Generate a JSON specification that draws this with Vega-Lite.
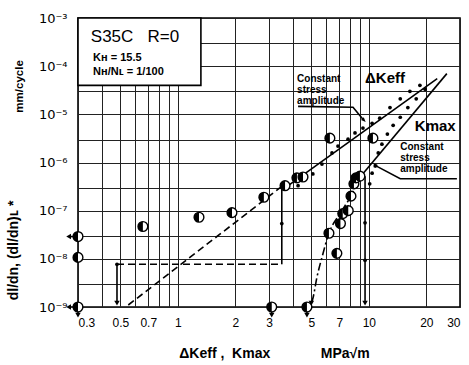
{
  "$schema": "https://vega.github.io/schema/vega-lite/v6.json",
  "width": 382,
  "height": 289,
  "autosize": {"type": "none"},
  "padding": {"left": 78, "top": 18, "right": 9, "bottom": 58},
  "background": "white",
  "config": {"view": {"stroke": "black", "strokeWidth": 1.6}, "font": "Liberation Sans"},
  "datasets": {
    "box": [{"x": 0.3, "x2": 1.32, "y": 0.001, "y2": 4e-5}],
    "solid": [
      {"id": "dk", "o": 1, "x": 3.64, "y": 2.96e-7}, {"id": "dk", "o": 2, "x": 22.8, "y": 5.5e-5},
      {"id": "km", "o": 1, "x": 8.67, "y": 4.2e-7}, {"id": "km", "o": 2, "x": 25.6, "y": 7e-5},
      {"id": "v1", "o": 1, "x": 3.5, "y": 7.7e-9}, {"id": "v1", "o": 2, "x": 3.5, "y": 3.3e-7},
      {"id": "v2", "o": 1, "x": 0.48, "y": 7.7e-9}, {"id": "v2", "o": 2, "x": 0.48, "y": 1.2e-9},
      {"id": "v3", "o": 1, "x": 9.55, "y": 5.2e-7}, {"id": "v3", "o": 2, "x": 9.55, "y": 1.2e-9},
      {"id": "l1", "o": 1, "x": 4.26, "y": 1.46e-5}, {"id": "l1", "o": 2, "x": 8.26, "y": 1.4e-5}, {"id": "l1", "o": 3, "x": 9.31, "y": 7.9e-6},
      {"id": "l2", "o": 1, "x": 28.9, "y": 4.6e-7}, {"id": "l2", "o": 2, "x": 14.6, "y": 4.6e-7}, {"id": "l2", "o": 3, "x": 10.9, "y": 8.5e-7},
      {"id": "sA", "o": 1, "x": 0.3, "y": 2.9e-8}, {"id": "sA", "o": 2, "x": 0.27, "y": 2.9e-8},
      {"id": "sC", "o": 1, "x": 0.3, "y": 1e-9}, {"id": "sC", "o": 2, "x": 0.27, "y": 1e-9},
      {"id": "sC2", "o": 1, "x": 0.3, "y": 1e-9}, {"id": "sC2", "o": 2, "x": 0.3, "y": 7e-10},
      {"id": "sH", "o": 1, "x": 3.1, "y": 1e-9}, {"id": "sH", "o": 2, "x": 3.1, "y": 7e-10},
      {"id": "sM", "o": 1, "x": 4.74, "y": 1e-9}, {"id": "sM", "o": 2, "x": 4.74, "y": 7e-10}
    ],
    "dashed": [
      {"id": "dkva", "o": 1, "x": 0.55, "y": 1.1e-9}, {"id": "dkva", "o": 2, "x": 3.43, "y": 3e-7},
      {"id": "hz", "o": 1, "x": 0.48, "y": 7.7e-9}, {"id": "hz", "o": 2, "x": 3.5, "y": 7.7e-9}
    ],
    "dashdot": [
      {"o": 1, "x": 8.98, "y": 5.2e-7}, {"o": 2, "x": 8.17, "y": 2.24e-7}, {"o": 3, "x": 7.06, "y": 8.7e-8},
      {"o": 4, "x": 6.18, "y": 3.4e-8}, {"o": 5, "x": 5.68, "y": 1.07e-8}, {"o": 6, "x": 5.35, "y": 4.2e-9},
      {"o": 7, "x": 5.09, "y": 1.5e-9}, {"o": 8, "x": 5.0, "y": 1.2e-9}
    ],
    "dots": [
      {"x": 4.26, "y": 3.3e-7}, {"x": 5.09, "y": 5.8e-7}, {"x": 5.68, "y": 9.3e-7}, {"x": 6.41, "y": 1.58e-6},
      {"x": 6.89, "y": 2.2e-6}, {"x": 7.78, "y": 3.05e-6}, {"x": 8.46, "y": 4.1e-6}, {"x": 9.31, "y": 5.2e-6},
      {"x": 10.4, "y": 6.5e-6}, {"x": 11.4, "y": 8.3e-6}, {"x": 12.9, "y": 1.38e-5}, {"x": 14.6, "y": 2.1e-5},
      {"x": 16.4, "y": 3e-5}, {"x": 18.5, "y": 4e-5},
      {"x": 10.1, "y": 3.6e-7}, {"x": 10.4, "y": 6e-7}, {"x": 10.8, "y": 8.5e-7}, {"x": 11.2, "y": 1.58e-6},
      {"x": 11.7, "y": 2.4e-6}, {"x": 12.5, "y": 3.9e-6}, {"x": 13.4, "y": 5.9e-6}, {"x": 14.6, "y": 8.7e-6},
      {"x": 16.0, "y": 1.38e-5}, {"x": 17.7, "y": 2.1e-5}, {"x": 19.7, "y": 3.3e-5},
      {"x": 0.48, "y": 7.7e-9}, {"x": 3.5, "y": 5.4e-8}, {"x": 9.55, "y": 5.6e-8}, {"x": 9.55, "y": 9.3e-9}
    ],
    "circles": [
      {"x": 0.3, "y": 2.9e-8}, {"x": 0.3, "y": 1.07e-8}, {"x": 0.3, "y": 1e-9}, {"x": 0.656, "y": 4.7e-8},
      {"x": 1.29, "y": 7.3e-8}, {"x": 1.92, "y": 9.1e-8}, {"x": 2.82, "y": 1.9e-7}, {"x": 3.1, "y": 1e-9},
      {"x": 3.64, "y": 3.3e-7}, {"x": 4.2, "y": 4.8e-7}, {"x": 4.52, "y": 5.0e-7}, {"x": 6.25, "y": 3.2e-6},
      {"x": 4.74, "y": 1e-9}, {"x": 6.18, "y": 3.4e-8}, {"x": 6.8, "y": 1.3e-8}, {"x": 7.1, "y": 5.4e-8},
      {"x": 7.3, "y": 8.7e-8}, {"x": 7.8, "y": 1.0e-7}, {"x": 8.06, "y": 2.0e-7}, {"x": 8.35, "y": 3.6e-7},
      {"x": 8.56, "y": 4.8e-7}, {"x": 8.98, "y": 5.2e-7}, {"x": 10.5, "y": 3.2e-6}
    ],
    "arrows": [
      {"x": 0.268, "y": 2.9e-8, "dir": "left"}, {"x": 0.268, "y": 1e-9, "dir": "left"},
      {"x": 0.3, "y": 6.8e-10, "dir": "down"}, {"x": 3.1, "y": 6.8e-10, "dir": "down"},
      {"x": 4.74, "y": 6.8e-10, "dir": "down"}, {"x": 0.48, "y": 1.2e-9, "dir": "down"},
      {"x": 9.55, "y": 1.2e-9, "dir": "down"}, {"x": 5.0, "y": 1.2e-9, "dir": "down"},
      {"x": 9.31, "y": 7.9e-6, "dir": "dr"}, {"x": 10.9, "y": 8.5e-7, "dir": "ul"}
    ],
    "tbig": [{"x": 0.35, "y": 3.2e-4, "t": "S35C\u00a0\u00a0 R=0"}],
    "tsmall": [{"x": 0.36, "y": 1.3e-4, "t": "Kʜ = 15.5"}, {"x": 0.36, "y": 6.7e-5, "t": "Nʜ/Nʟ = 1/100"}],
    "tannot": [
      {"x": 4.21, "y": 4.8e-5, "t": "Constant"}, {"x": 4.21, "y": 2.75e-5, "t": "stress"}, {"x": 4.21, "y": 1.65e-5, "t": "amplitude"},
      {"x": 14.6, "y": 1.81e-6, "t": "Constant"}, {"x": 14.6, "y": 1.07e-6, "t": "stress"}, {"x": 14.6, "y": 6.3e-7, "t": "amplitude"}
    ],
    "tlab": [{"x": 9.55, "y": 4.4e-5, "t": "ΔKeff"}, {"x": 17.4, "y": 4.5e-6, "t": "Kmax"}],
    "tunit": [{"x": 0.149, "y": 3.8e-5, "t": "mm/cycle"}]
  },
  "encoding": {
    "x": {
      "field": "x", "type": "quantitative",
      "scale": {"type": "log", "domain": [0.3, 30], "nice": false},
      "axis": {
        "title": "ΔKeff ,\u00a0\u00a0Kmax\u00a0\u00a0\u00a0\u00a0\u00a0\u00a0\u00a0\u00a0\u00a0\u00a0\u00a0\u00a0\u00a0MPa√m",
        "values": [0.3, 0.4, 0.5, 0.6, 0.7, 0.8, 0.9, 1, 2, 3, 4, 5, 6, 7, 8, 9, 10, 20, 30],
        "format": "~g",
        "labelExpr": "indexof([0.3,0.5,0.7,1,2,3,5,7,10,20,30], datum.value) >= 0 ? datum.label : ''",
        "labelFontSize": 12, "labelColor": "black", "labelPadding": 10, "labelOverlap": false,
        "ticks": false, "domain": false, "grid": true, "gridColor": "#222", "gridWidth": 1,
        "titleFontSize": 14, "titleFontWeight": "bold", "titleColor": "black",
        "titleX": 196, "titleY": 50, "titleBaseline": "alphabetic"
      }
    },
    "y": {
      "field": "y", "type": "quantitative",
      "scale": {"type": "log", "domain": [1e-9, 0.001], "nice": false},
      "axis": {
        "title": "dl/dn, (dl/dn)ʟ *",
        "values": [1e-9, 3e-9, 1e-8, 3e-8, 1e-7, 3e-7, 1e-6, 3e-6, 1e-5, 3e-5, 1e-4, 3e-4, 1e-3],
        "labelExpr": "abs(log(datum.value)/LN10 - round(log(datum.value)/LN10)) < 0.01 ? '10' + ['⁻⁹','⁻⁸','⁻⁷','⁻⁶','⁻⁵','⁻⁴','⁻³'][round(log(datum.value)/LN10)+9] : ''",
        "labelFont": "DejaVu Sans", "labelFontSize": 13, "labelColor": "black", "labelPadding": 11, "labelOverlap": false,
        "ticks": false, "domain": false, "grid": true, "gridColor": "#222", "gridWidth": 1,
        "titleFontSize": 14, "titleFontWeight": "bold", "titleColor": "black",
        "titleX": -58, "titleY": 232, "titleAngle": 270
      }
    }
  },
  "layer": [
    {"data": {"name": "box"}, "mark": {"type": "rect", "fill": "white", "stroke": "black", "strokeWidth": 1.6},
     "encoding": {"x2": {"field": "x2"}, "y2": {"field": "y2"}}},
    {"data": {"name": "solid"}, "mark": {"type": "line", "color": "black", "strokeWidth": 1.6},
     "encoding": {"detail": {"field": "id"}, "order": {"field": "o"}}},
    {"data": {"name": "dashed"}, "mark": {"type": "line", "color": "black", "strokeWidth": 1.6, "strokeDash": [7, 4]},
     "encoding": {"detail": {"field": "id"}, "order": {"field": "o"}}},
    {"data": {"name": "dashdot"}, "mark": {"type": "line", "color": "black", "strokeWidth": 1.6, "strokeDash": [8, 3, 2, 3], "interpolate": "monotone"},
     "encoding": {"order": {"field": "o"}}},
    {"data": {"name": "dots"}, "mark": {"type": "point", "filled": true, "color": "black", "size": 14, "opacity": 1}},
    {"data": {"name": "circles"}, "mark": {"type": "point", "shape": "circle", "filled": true, "fill": "white", "stroke": "black", "strokeWidth": 1.4, "size": 95, "opacity": 1}},
    {"data": {"name": "circles"}, "mark": {"type": "point", "shape": "M0,-1A1,1,0,0,0,0,1Z", "filled": true, "fill": "black", "strokeWidth": 0, "size": 95, "opacity": 1}},
    {"data": {"name": "arrows"}, "mark": {"type": "point", "filled": true, "color": "black", "size": 30, "opacity": 1},
     "encoding": {"shape": {"field": "dir", "type": "nominal", "legend": null,
       "scale": {"domain": ["down", "left", "dr", "ul"], "range": ["triangle-down", "triangle-left", "M1,1L-0.7,0.3L0.3,-0.7Z", "M-1,-1L0.7,-0.3L-0.3,0.7Z"]}}}},
    {"data": {"name": "tbig"}, "mark": {"type": "text", "align": "left", "baseline": "alphabetic", "fontSize": 17, "color": "black"},
     "encoding": {"text": {"field": "t"}}},
    {"data": {"name": "tsmall"}, "mark": {"type": "text", "align": "left", "baseline": "alphabetic", "fontSize": 11, "fontWeight": "bold", "color": "black"},
     "encoding": {"text": {"field": "t"}}},
    {"data": {"name": "tannot"}, "mark": {"type": "text", "align": "left", "baseline": "alphabetic", "fontSize": 10, "fontWeight": "bold", "color": "black"},
     "encoding": {"text": {"field": "t"}}},
    {"data": {"name": "tlab"}, "mark": {"type": "text", "align": "left", "baseline": "alphabetic", "fontSize": 15, "fontWeight": "bold", "color": "black"},
     "encoding": {"text": {"field": "t"}}},
    {"data": {"name": "tunit"}, "mark": {"type": "text", "align": "center", "baseline": "middle", "angle": 270, "fontSize": 11.5, "fontWeight": "bold", "color": "black"},
     "encoding": {"text": {"field": "t"}}}
  ]
}
